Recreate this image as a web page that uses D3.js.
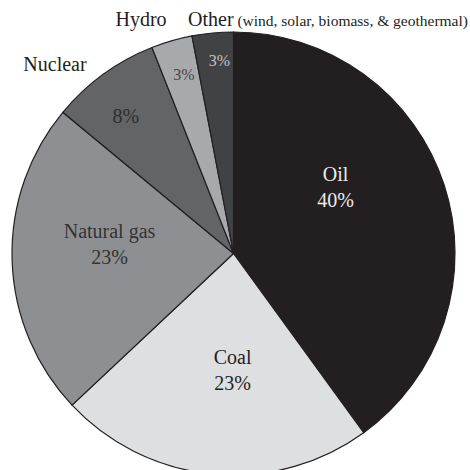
<!DOCTYPE html>
<html>
<head>
<meta charset="utf-8">
<script src="https://cdn.jsdelivr.net/npm/d3@7"></script>
<style>
  body { margin: 0; background: #fff; }
  text { font-family: "Liberation Serif", "Times New Roman", serif; }
</style>
</head>
<body>
<div id="chart"></div>
<script>
// energy sources, clockwise from 12 o'clock
const sources = ["Oil", "Coal", "Natural gas", "Nuclear", "Hydro", "Other"];
const shares = [40, 23, 23, 8, 3, 3];
const colors = ["#231f20", "#dedfe1", "#8e8f92", "#636466", "#a8a9ac", "#414244"];

const width = 470, height = 470;
const cx = 233.5, cy = 253.5, radius = 221.5;

const svg = d3.select("#chart").append("svg")
  .attr("width", width)
  .attr("height", height);

const g = svg.append("g").attr("transform", `translate(${cx},${cy})`);

const pie = d3.pie().sort(null).value(d => d.value);
const arc = d3.arc().innerRadius(0).outerRadius(radius);

const data = sources.map((s, i) => ({ name: s, value: shares[i], color: colors[i] }));
const arcs = pie(data);

g.selectAll("path.slice")
  .data(arcs)
  .enter().append("path")
    .attr("class", "slice")
    .attr("d", arc)
    .attr("fill", d => d.data.color)
    .style("stroke", "#231f20")
    .style("stroke-width", 1.2);

// label placement: fraction of the slice's angle, radius, text colour, size
const labelLayout = [
  { f: 0.38, r: 125, color: "#ececec", size: 20, showName: true },
  { f: 0.44, r: 111, color: "#231f20", size: 20, showName: true },
  { f: 0.61, r: 125, color: "#333333", size: 20, showName: true },
  { f: 0.375, r: 169, color: "#2e2e2e", size: 20 },
  { f: 0.52, r: 180, color: "#444444", size: 16 },
  { f: 0.60, r: 188, color: "#c4c4c4", size: 16 }
];

function polar(a, r) {
  return [r * Math.sin(a), -r * Math.cos(a)];
}

arcs.forEach((d, i) => {
  const L = labelLayout[i];
  const a = d.startAngle + (d.endAngle - d.startAngle) * L.f;
  const [x, y] = polar(a, L.r);
  if (L.showName) {
    g.append("text")
      .attr("x", x).attr("y", y)
      .attr("text-anchor", "middle")
      .attr("fill", L.color)
      .style("font-size", L.size + "px")
      .text(d.data.name);
    g.append("text")
      .attr("x", x).attr("y", y + 26)
      .attr("text-anchor", "middle")
      .attr("fill", L.color)
      .style("font-size", L.size + "px")
      .text(d.data.value + "%");
  } else {
    g.append("text")
      .attr("x", x).attr("y", y)
      .attr("text-anchor", "middle")
      .attr("fill", L.color)
      .style("font-size", L.size + "px")
      .text(d.data.value + "%");
  }
});

// outside labels for the small slices
svg.append("text")
  .attr("x", 55).attr("y", 71)
  .attr("text-anchor", "middle")
  .attr("fill", "#231f20")
  .style("font-size", "20px")
  .text(sources[3]);

svg.append("text")
  .attr("x", 141).attr("y", 26)
  .attr("text-anchor", "middle")
  .attr("fill", "#231f20")
  .style("font-size", "20px")
  .text(sources[4]);

const other = svg.append("text")
  .attr("x", 188).attr("y", 26)
  .attr("fill", "#231f20");
other.append("tspan").style("font-size", "20px").text(sources[5]);
other.append("tspan").style("font-size", "15.5px").text(" (wind, solar, biomass, & geothermal)");
</script>
</body>
</html>
